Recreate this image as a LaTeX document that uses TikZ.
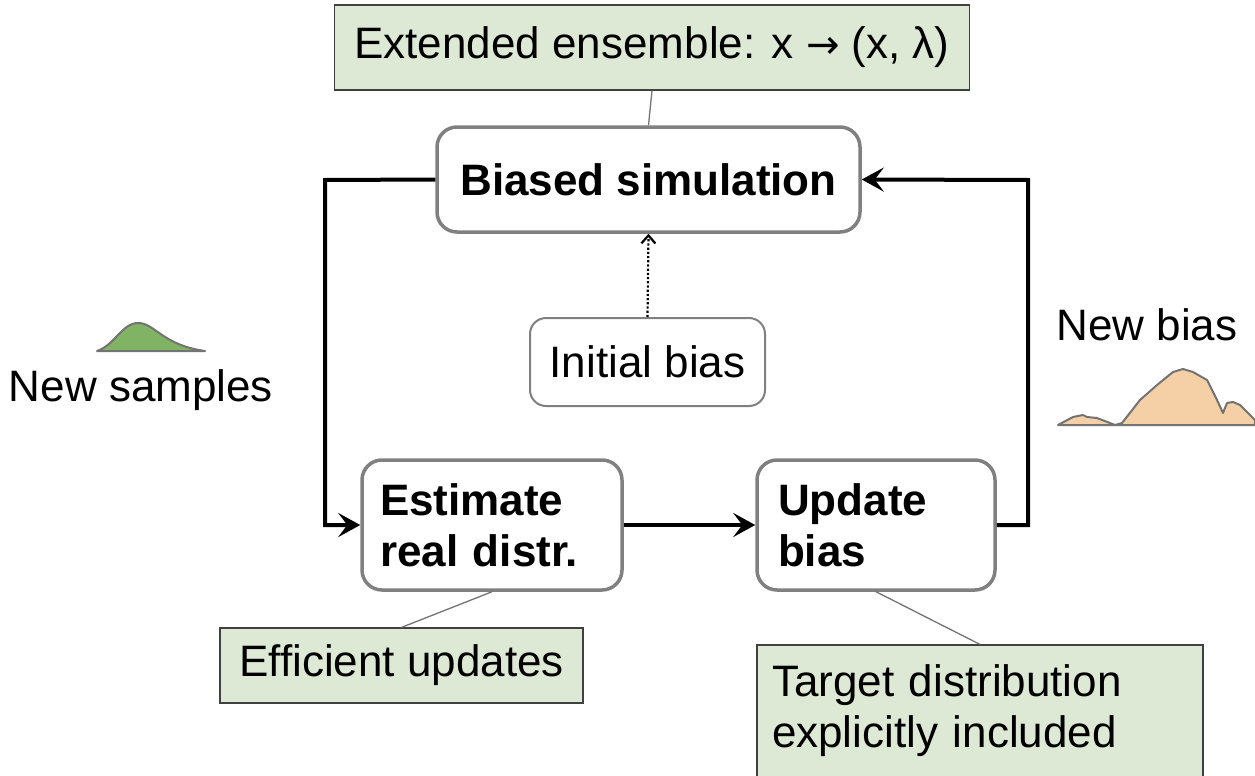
\documentclass[tikz,border=0pt]{standalone}
\usepackage{fontspec}
\setmainfont{Liberation Sans}
\newfontfamily\arrowfont{DejaVu Sans}
\usetikzlibrary{arrows.meta}
\definecolor{notegreen}{RGB}{221,233,213}
\definecolor{boxgray}{RGB}{128,128,128}
\definecolor{bumpgreen}{RGB}{128,180,100}
\definecolor{bumporange}{RGB}{245,207,165}
\begin{document}
\begin{tikzpicture}[x=1pt,y=-1pt,
  every node/.style={font=\fontsize{44}{51}\selectfont, text=black},
  note/.style={draw=black!75, line width=1.2pt, fill=notegreen, inner sep=0pt},
  stepbox/.style={draw=boxgray, line width=3.5pt, rounded corners=20pt, fill=white, inner sep=0pt, font=\fontsize{44}{51}\selectfont\bfseries},
  initbox/.style={draw=boxgray, line width=2pt, rounded corners=16pt, fill=white, inner sep=0pt},
  flow/.style={line width=4pt, -{Stealth[length=22pt,width=24pt,inset=9pt]}},
  link/.style={draw=black!55, line width=1.3pt},
  curve/.style={draw=black!55, line width=2pt, line join=round}
]
\useasboundingbox (0,0) rectangle (1255,776);
% notes
\node[note, minimum width=635pt, minimum height=85pt] (ext) at (652,47.5) {Extended ensemble: x {\arrowfont\fontsize{40}{40}\selectfont →} (x, λ)};
\node[note, minimum width=363pt, minimum height=75pt] (eff) at (401.5,665.5) {Efficient updates};
\node[note, minimum width=446pt, minimum height=132pt, text width=416pt, align=left, inner xsep=15pt] (tgt) at (980,711) {Target distribution\\explicitly included};
% process boxes
\node[stepbox, minimum width=423pt, minimum height=105pt] (bs) at (648.5,179.5) {Biased simulation};
\node[initbox, minimum width=235pt, minimum height=88pt] (ib) at (647.5,362) {Initial bias};
\node[stepbox, minimum width=260pt, minimum height=130pt, text width=224pt, align=left, inner xsep=18pt] (est) at (492,525) {Estimate\\real distr.};
\node[stepbox, minimum width=238pt, minimum height=130pt, text width=196pt, align=left, inner xsep=21pt] (upd) at (876,525) {Update\\bias};
% labels
\node (ns) at (141,390) {New samples};
\node (nb) at (1147,325) {New bias};
% links
\draw[link] (ext.south) -- (bs.north);
\draw[link] (est.south) -- (eff.north);
\draw[link] (upd.south) -- (tgt.north);
% flows
\coordinate (lt) at (325,180);
\coordinate (rt) at (1028,180);
\draw[flow] (bs.west) -- (lt) |- (est.west);
\draw[flow] (est.east) -- (upd.west);
\draw[flow] (upd.east) -| (rt) -- (bs.east);
\draw[line width=2.2pt, dotted, -{Straight Barb[length=8pt,width=14pt]}] (ib.north) -- (bs.south);
% distributions
\draw[curve, fill=bumpgreen] (97,351) .. controls (115,345) and (122,323) .. (138,323)
  .. controls (155,323) and (162,345) .. (205,351) -- cycle;
\draw[curve, fill=bumporange] (1058,425) -- (1073,417) -- (1083,415) -- (1087,417) -- (1097,418)
  -- (1115,425) -- (1122,423) -- (1140,400) -- (1157,385) -- (1173,372) -- (1183,369)
  -- (1193,372) -- (1207,380) -- (1217,400) -- (1223,413) -- (1227,403) -- (1233,402)
  -- (1240,405) -- (1255,420) -- (1255,425) -- cycle;
\end{tikzpicture}
\end{document}
